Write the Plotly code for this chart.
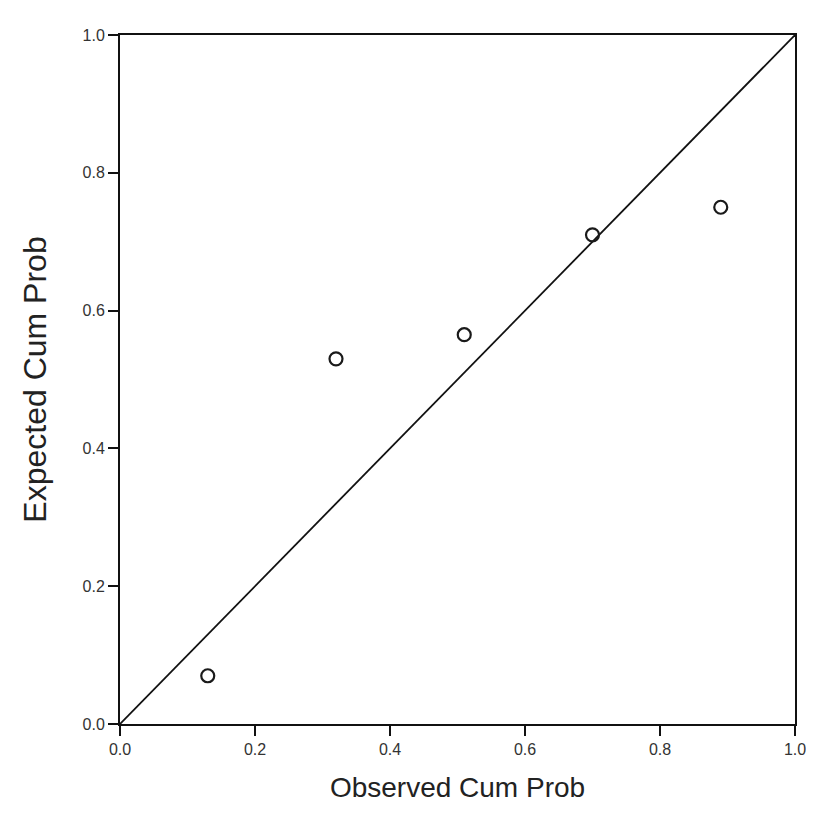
import plotly.graph_objects as go

# Data read from the (skewed) scanned P-P plot
observed_cum_prob = [0.13, 0.32, 0.51, 0.70, 0.89]
expected_cum_prob = [0.07, 0.53, 0.565, 0.71, 0.75]
ref_line_x = [0.0, 1.0]
ref_line_y = [0.0, 1.0]
tick_vals = [0.0, 0.2, 0.4, 0.6, 0.8, 1.0]
tick_text = ["0.0", "0.2", "0.4", "0.6", "0.8", "1.0"]

fig = go.Figure()
fig.add_trace(go.Scatter(
    x=ref_line_x, y=ref_line_y, mode="lines",
    line=dict(color="#111111", width=1.8),
    showlegend=False, hoverinfo="skip",
))
fig.add_trace(go.Scatter(
    x=observed_cum_prob, y=expected_cum_prob, mode="markers",
    marker=dict(symbol="circle-open", size=13, color="#1a1a1a",
                line=dict(width=2.2, color="#1a1a1a")),
    showlegend=False,
))

axis_common = dict(
    range=[0, 1], tickvals=tick_vals, ticktext=tick_text,
    showgrid=False, zeroline=False,
    showline=True, linecolor="#111111", linewidth=2, mirror=True,
    ticks="outside", ticklen=10, tickwidth=2, tickcolor="#111111",
    tickfont=dict(family="Liberation Sans, Arial, sans-serif", size=16, color="#333333"),
)

fig.update_layout(
    width=814, height=831,
    margin=dict(l=112, r=27, t=27, b=115),
    paper_bgcolor="white", plot_bgcolor="white",
    xaxis=dict(**axis_common,
               title=dict(text="Observed Cum Prob", standoff=20,
                          font=dict(family="Liberation Sans, Arial, sans-serif", size=28, color="#222222"))),
    yaxis=dict(**axis_common,
               title=dict(text="Expected Cum Prob", standoff=26,
                          font=dict(family="Liberation Sans, Arial, sans-serif", size=32, color="#222222"))),
)

fig.write_html("out.html")
